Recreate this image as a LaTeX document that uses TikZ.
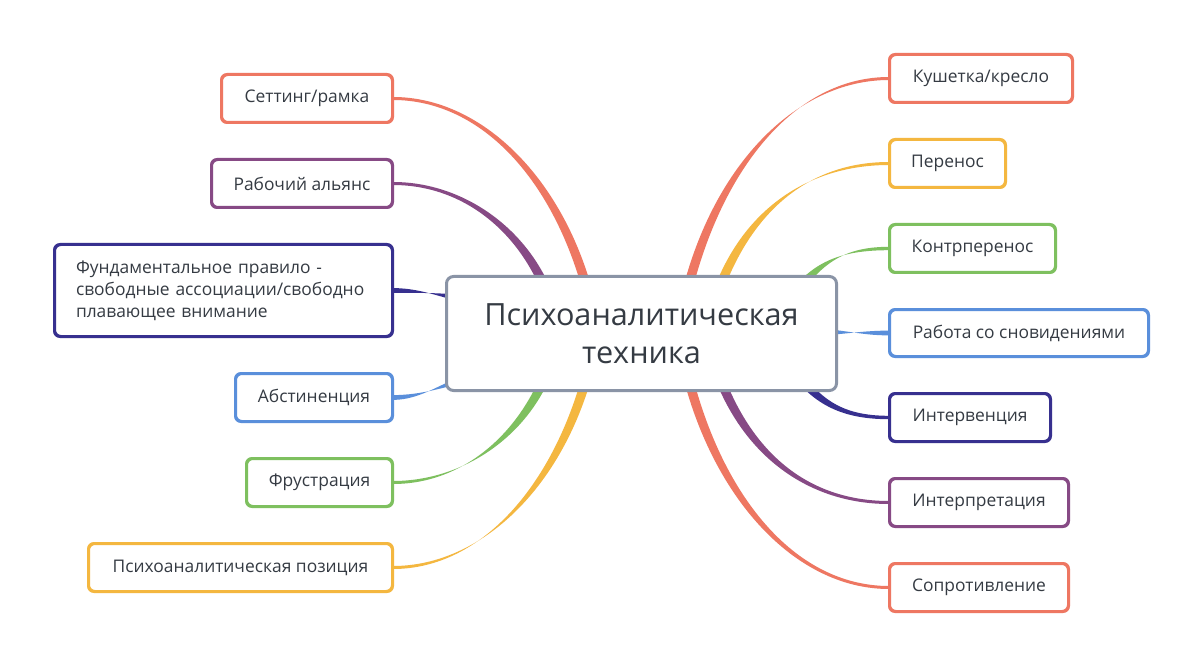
\documentclass[tikz,border=0pt]{standalone}
\usepackage{fontspec}
\setmainfont{Open Sans}
\usetikzlibrary{calc}
\definecolor{csal}{HTML}{EE7762}
\definecolor{cpur}{HTML}{874A85}
\definecolor{cind}{HTML}{37308F}
\definecolor{cblu}{HTML}{5A8FDB}
\definecolor{cgrn}{HTML}{7EC05F}
\definecolor{cyel}{HTML}{F4B740}
\definecolor{ctxt}{HTML}{353B43}
\definecolor{cgry}{HTML}{8A94A6}
\newcommand\branch[7]{% color, leaf, target, c1 rel leaf, c2 rel target, offset at target, half width at leaf
  \fill[#1] ($#2+(0,-#7)$) .. controls ($#2+#4+(0,-#7)$) and ($#3+#5+#6$) .. ($#3+#6$)
     -- ($#3-#6$) .. controls ($#3+#5-#6$) and ($#2+#4+(0,#7)$) .. ($#2+(0,#7)$) -- cycle;}
\begin{document}
\begin{tikzpicture}[x=1pt,y=-1pt,
  leaf/.style={draw=#1, line width=2pt, rounded corners=6pt, fill=white, text=ctxt,
    font=\fontsize{17.4}{22}\selectfont, inner xsep=0pt, inner ysep=0pt, anchor=north west},
  hub/.style={draw=cgry, line width=3pt, rounded corners=7pt, fill=white, text=ctxt,
    font=\fontsize{30.6}{38}\selectfont, align=center, inner sep=0pt, anchor=north west}]
\useasboundingbox (0,0) rectangle (1200,663);
\fill[white] (0,0) rectangle (1200,663);
% leaf nodes (left)
\node[leaf=csal, minimum width=170pt, minimum height=47pt] (l1) at (221,74) {Сеттинг/рамка};
\node[leaf=cpur, minimum width=180pt, minimum height=47pt] (l2) at (211,159) {Рабочий альянс};
\node[leaf=cind, minimum width=337pt, minimum height=91pt, align=left, text width=295pt, inner xsep=21pt] (l3) at (54,244) {Фундаментальное правило -\\свободные ассоциации/свободно\\плавающее внимание};
\node[leaf=cblu, minimum width=156pt, minimum height=47pt] (l4) at (235,373) {Абстиненция};
\node[leaf=cgrn, minimum width=145pt, minimum height=47pt] (l5) at (246,458) {Фрустрация};
\node[leaf=cyel, minimum width=303pt, minimum height=47pt] (l6) at (88,543) {Психоаналитическая позиция};
% leaf nodes (right)
\node[leaf=csal, minimum width=182pt, minimum height=47pt] (r1) at (889,54) {Кушетка/кресло};
\node[leaf=cyel, minimum width=115pt, minimum height=47pt] (r2) at (889,139) {Перенос};
\node[leaf=cgrn, minimum width=165pt, minimum height=47pt] (r3) at (889,224) {Контрперенос};
\node[leaf=cblu, minimum width=258pt, minimum height=46pt] (r4) at (889,309) {Работа со сновидениями};
\node[leaf=cind, minimum width=160pt, minimum height=47pt] (r5) at (889,393) {Интервенция};
\node[leaf=cpur, minimum width=178pt, minimum height=47pt] (r6) at (889,478) {Интерпретация};
\node[leaf=csal, minimum width=178pt, minimum height=47pt] (r7) at (889,563) {Сопротивление};
% targets inside the hub
\coordinate (tl1) at (590,300);
\coordinate (tl2) at (550,300);
\coordinate (tl3) at (470,300);
\coordinate (tl4) at (470,378);
\coordinate (tl5) at (550,365);
\coordinate (tl6) at (590,365);
\coordinate (tr1) at (685,300);
\coordinate (tr2) at (715,300);
\coordinate (tr3) at (790,300);
\coordinate (tr4) at (810,332);
\coordinate (tr5) at (790,365);
\coordinate (tr6) at (715,365);
\coordinate (tr7) at (685,365);
% branches
\branch{csal}{(l1.east)}{(tl1)}{(89,0)}{(-30,-120)}{(4.6,-1.1)}{1.5}
\branch{cpur}{(l2.east)}{(tl2)}{(70,0)}{(-25,-70)}{(4.4,-1.6)}{1.5}
\branch{cind}{(l3.east)}{(tl3)}{(30,0)}{(-25,-4)}{(0,3.5)}{2.4}
\branch{cblu}{(l4.east)}{(tl4)}{(30,0)}{(-25,5)}{(0,3.5)}{2.4}
\branch{cgrn}{(l5.east)}{(tl5)}{(70,0)}{(-25,70)}{(4.4,1.6)}{1.5}
\branch{cyel}{(l6.east)}{(tl6)}{(89,0)}{(-30,120)}{(4.6,1.1)}{1.5}
\branch{csal}{(r1.west)}{(tr1)}{(-95,0)}{(30,-130)}{(4.6,1.1)}{1.5}
\branch{cyel}{(r2.west)}{(tr2)}{(-80,0)}{(30,-90)}{(4.5,1.3)}{1.5}
\branch{cgrn}{(r3.west)}{(tr3)}{(-50,0)}{(25,-35)}{(3.8,2.6)}{1.7}
\branch{cblu}{(r4.west)}{(tr4)}{(-30,0)}{(30,0)}{(0,3.5)}{2.4}
\branch{cind}{(r5.west)}{(tr5)}{(-50,0)}{(25,35)}{(3.8,-2.6)}{1.7}
\branch{cpur}{(r6.west)}{(tr6)}{(-80,0)}{(30,90)}{(4.5,-1.3)}{1.5}
\branch{csal}{(r7.west)}{(tr7)}{(-95,0)}{(30,130)}{(4.6,-1.1)}{1.5}
% hub
\node[hub, minimum width=390pt, minimum height=114pt] (hub) at (445,275) {Психоаналитическая\\техника};
% redraw leaf borders over branch ends
\foreach \n/\c in {l1/csal,l2/cpur,l3/cind,l4/cblu,l5/cgrn,l6/cyel,r1/csal,r2/cyel,r3/cgrn,r4/cblu,r5/cind,r6/cpur,r7/csal}
  \draw[\c, line width=2pt, rounded corners=6pt] (\n.north west) rectangle (\n.south east);
\end{tikzpicture}
\end{document}
